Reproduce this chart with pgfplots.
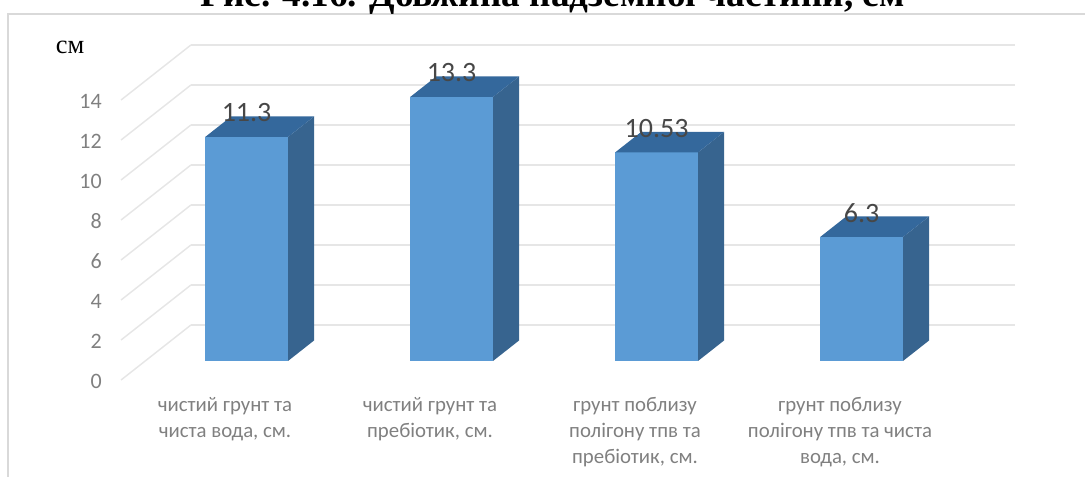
\documentclass[border=0pt]{standalone}
\usepackage{fontspec}
\setmainfont{Carlito}
\newfontfamily\timesfont{Liberation Serif}
\usepackage{pgfplots}
\pgfplotsset{compat=1.18}
\definecolor{barfront}{HTML}{5B9BD5}
\definecolor{barside}{HTML}{37648F}
\definecolor{bartop}{HTML}{34689C}
\definecolor{gridgray}{HTML}{E6E6E6}
\definecolor{framegray}{HTML}{D9D9D9}
\definecolor{labelgray}{HTML}{808080}
% 1 px of the reference = 0.75pt, page is 813.75pt x 357.75pt
\begin{document}
\begin{tikzpicture}
\path[use as bounding box] (0,0) rectangle (813.75pt,357.75pt);
\draw[framegray, line width=1.5pt] (6pt,0) -- (6pt,347.25pt) -- (813.75pt,347.25pt);
\node[anchor=base, inner sep=0pt, font=\timesfont\bfseries\fontsize{27.9}{32}\selectfont]
  at (414.4pt,352.9pt) {Рис. 4.16. Довжина надземної частини, см};
\node[anchor=center, inner sep=0pt, font=\timesfont\fontsize{19.8}{23}\selectfont]
  at (52.5pt,322.5pt) {см};
\begin{axis}[
  at={(168.75pt,72.75pt)}, anchor=origin,
  x={(153.75pt,0pt)}, y={(0.9525pt,0.75pt)}, z={(0pt,15pt)},
  xmin=-0.507, xmax=3.512, ymin=0, ymax=55, zmin=0, zmax=14,
  clip=false, no markers,
  axis line style={draw=none},
  major tick length=0pt,
  xtick={0,1,2,3}, ytick=\empty, ztick={0,2,...,14},
  zmajorgrids,
  grid style={gridgray, line width=1.1pt},
  xticklabels={{чистий грунт та\\чиста вода, см.},{чистий грунт та\\пребіотик, см.},{грунт поблизу\\полігону тпв та\\пребіотик, см.},{грунт поблизу\\полігону тпв та чиста\\вода, см.}},
  xticklabel style={align=center, anchor=north, yshift=-9.5pt, text=labelgray,
    font=\fontsize{15.6}{19.5}\selectfont},
  zticklabel style={anchor=east, text=labelgray, xshift=-11pt, yshift=-1pt, font=\fontsize{16.5}{19}\selectfont},
  /pgf/number format/assume math mode=true,
]
% bar 1
\addplot3[draw=none, fill=barfront] coordinates {(-0.202,17,0.1) (0.202,17,0.1) (0.202,17,11.3) (-0.202,17,11.3)};
\addplot3[draw=none, fill=barside] coordinates {(0.202,17,0.1) (0.202,37.5,0.1) (0.202,37.5,11.3) (0.202,17,11.3)};
\addplot3[draw=none, fill=bartop] coordinates {(-0.202,17,11.3) (0.202,17,11.3) (0.202,37.5,11.3) (-0.202,37.5,11.3)};
% bar 2
\addplot3[draw=none, fill=barfront] coordinates {(0.798,17,0.1) (1.202,17,0.1) (1.202,17,13.3) (0.798,17,13.3)};
\addplot3[draw=none, fill=barside] coordinates {(1.202,17,0.1) (1.202,37.5,0.1) (1.202,37.5,13.3) (1.202,17,13.3)};
\addplot3[draw=none, fill=bartop] coordinates {(0.798,17,13.3) (1.202,17,13.3) (1.202,37.5,13.3) (0.798,37.5,13.3)};
% bar 3
\addplot3[draw=none, fill=barfront] coordinates {(1.798,17,0.1) (2.202,17,0.1) (2.202,17,10.53) (1.798,17,10.53)};
\addplot3[draw=none, fill=barside] coordinates {(2.202,17,0.1) (2.202,37.5,0.1) (2.202,37.5,10.53) (2.202,17,10.53)};
\addplot3[draw=none, fill=bartop] coordinates {(1.798,17,10.53) (2.202,17,10.53) (2.202,37.5,10.53) (1.798,37.5,10.53)};
% bar 4
\addplot3[draw=none, fill=barfront] coordinates {(2.798,17,0.1) (3.202,17,0.1) (3.202,17,6.3) (2.798,17,6.3)};
\addplot3[draw=none, fill=barside] coordinates {(3.202,17,0.1) (3.202,37.5,0.1) (3.202,37.5,6.3) (3.202,17,6.3)};
\addplot3[draw=none, fill=bartop] coordinates {(2.798,17,6.3) (3.202,17,6.3) (3.202,37.5,6.3) (2.798,37.5,6.3)};
% value labels
\addplot3[draw=none, point meta=explicit symbolic, nodes near coords,
  every node near coord/.style={anchor=center, yshift=18pt, text=black!72, font=\fontsize{21}{25}\selectfont}]
  coordinates {(0,17,11.3) [11.3] (1,17,13.3) [13.3] (2,17,10.53) [10.53] (3,17,6.3) [6.3]};
\end{axis}
\end{tikzpicture}
\end{document}
